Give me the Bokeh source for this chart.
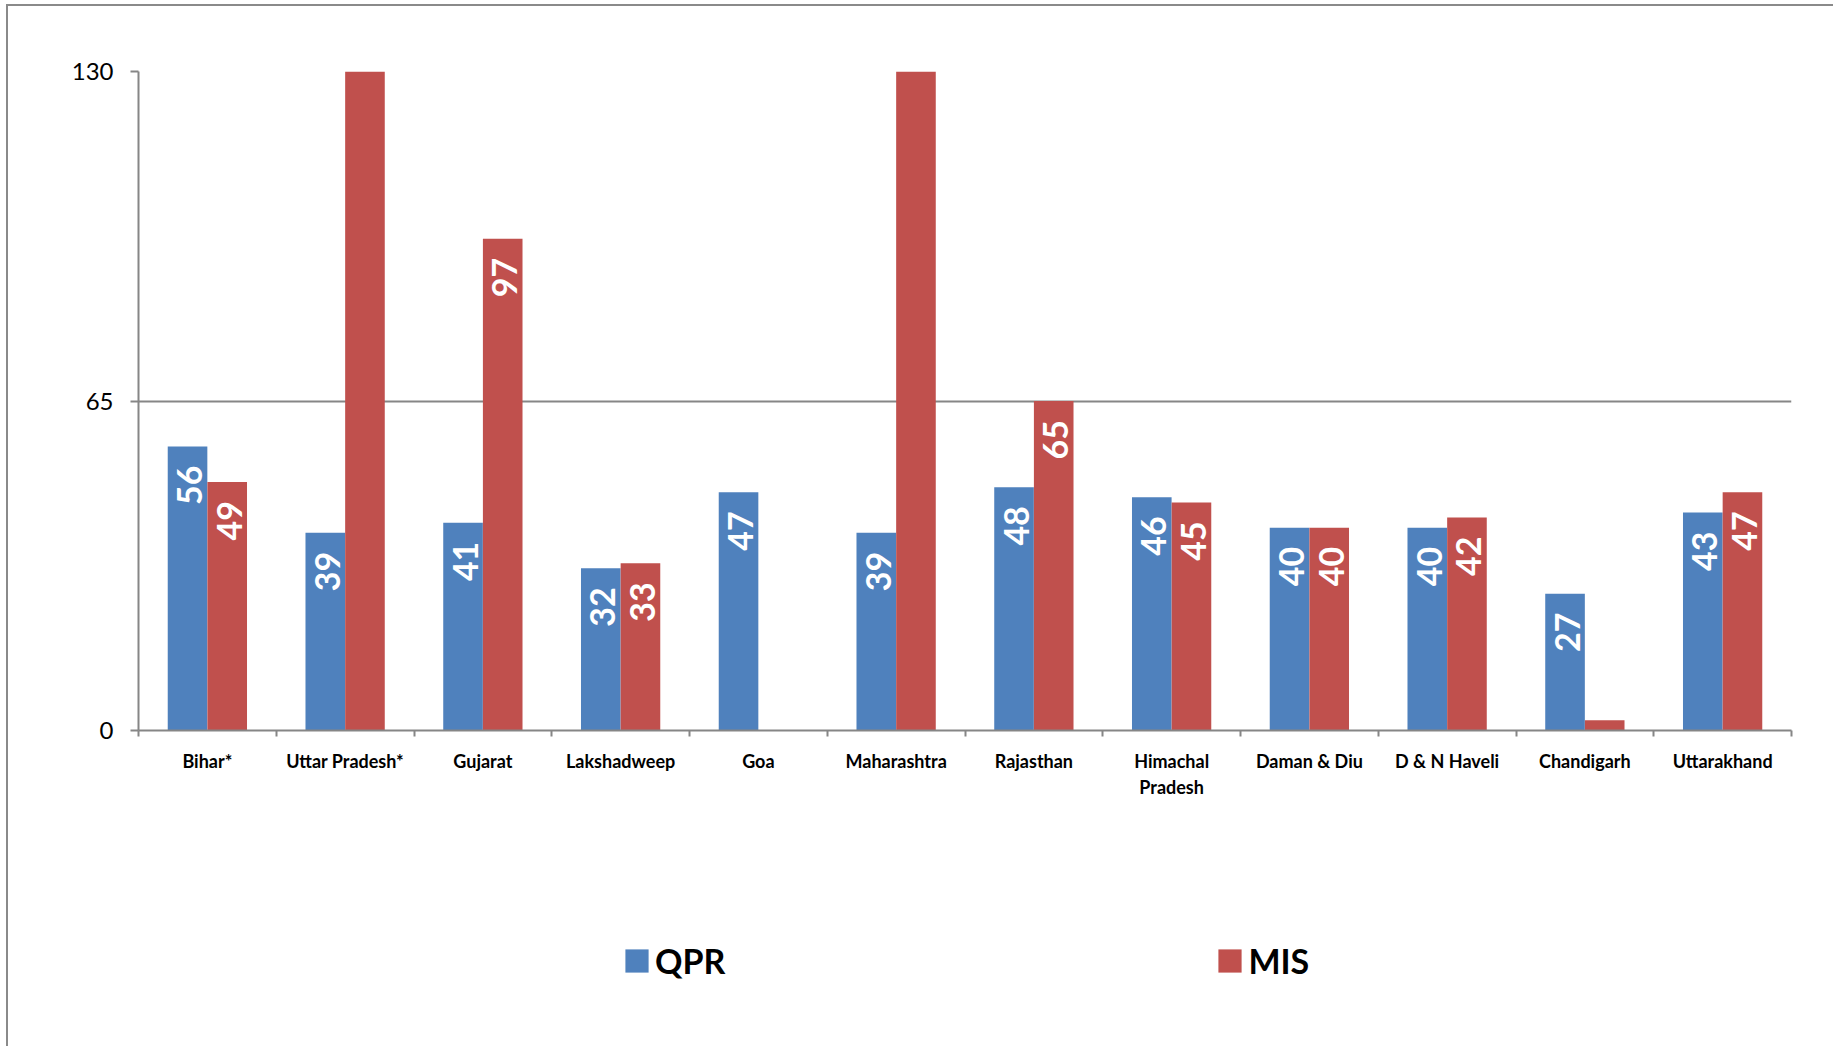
import numpy as np
from bokeh.plotting import figure
from bokeh.layouts import column
from bokeh.models import ColumnDataSource, FixedTicker, Range1d, Legend, LegendItem
from bokeh.transform import dodge
from bokeh.core.properties import value
from bokeh.embed import file_html
from bokeh.resources import INLINE

categories = ["Bihar*", "Uttar Pradesh*", "Gujarat", "Lakshadweep", "Goa", "Maharashtra",
              "Rajasthan", "Himachal\nPradesh", "Daman & Diu", "D & N Haveli", "Chandigarh", "Uttarakhand"]
qpr = [56, 39, 41, 32, 47, 39, 48, 46, 40, 40, 27, 43]
mis = [49, 140, 97, 33, float("nan"), 140, 65, 45, 40, 42, 2, 47]
series_names = ["QPR", "MIS"]
y_ticks = [0, 65, 130]
y_max = 130

BLUE = "#4F81BD"
RED = "#C0504D"
GREY = "#868686"
FONT = "Lato"

n = len(categories)
xc = np.arange(n) + 0.5
OFF = 0.144
BW = 0.2875

src = ColumnDataSource(dict(x=xc, qpr=qpr, mis=mis))

def lbl_source(vals):
    xs, ys, ts = [], [], []
    for xi, v in zip(xc, vals):
        if v == v and 5 <= v <= y_max:
            xs.append(xi); ys.append(v); ts.append(str(int(v)))
    return ColumnDataSource(dict(x=xs, y=ys, t=ts))

W = 1825
p = figure(width=W, height=824, x_range=Range1d(0, n), y_range=Range1d(0, y_max),
           output_backend="svg", toolbar_location=None,
           min_border_left=130, min_border_top=65, min_border_right=42, min_border_bottom=100)
p.outline_line_color = None
p.background_fill_color = "white"
p.border_fill_color = "white"

r1 = p.vbar(x=dodge("x", -OFF), top="qpr", width=BW, source=src, fill_color=BLUE, line_color=None)
r2 = p.vbar(x=dodge("x", OFF), top="mis", width=BW, source=src, fill_color=RED, line_color=None)

for vals, off in ((qpr, -OFF), (mis, OFF)):
    p.text(x=dodge("x", off), y="y", text="t", source=lbl_source(vals), angle=np.pi / 2,
           text_align="right", text_baseline="middle", y_offset=19, x_offset=2,
           text_color="white", text_font=value(FONT), text_font_style="bold",
           text_font_size="34px")

# axes
p.xaxis.ticker = FixedTicker(ticks=list(xc), minor_ticks=list(range(n + 1)))
p.xaxis.major_label_overrides = {float(x): c for x, c in zip(xc, categories)}
p.xaxis.major_tick_line_color = None
p.xaxis.major_tick_out = 0
p.xaxis.major_tick_in = 0
p.xaxis.minor_tick_line_color = GREY
p.xaxis.minor_tick_line_width = 2
p.xaxis.minor_tick_out = 6
p.xaxis.minor_tick_in = 0
p.xaxis.axis_line_color = GREY
p.xaxis.axis_line_width = 2
p.xaxis.major_label_standoff = 13
p.xaxis.major_label_text_font = FONT
p.xaxis.major_label_text_font_style = "bold"
p.xaxis.major_label_text_font_size = "18px"
p.xaxis.major_label_text_color = "black"

p.yaxis.ticker = FixedTicker(ticks=y_ticks)
p.yaxis.minor_tick_line_color = None
p.yaxis.major_tick_line_color = GREY
p.yaxis.major_tick_line_width = 2
p.yaxis.major_tick_out = 8
p.yaxis.major_tick_in = 0
p.yaxis.axis_line_color = GREY
p.yaxis.axis_line_width = 2
p.yaxis.major_label_standoff = 17
p.yaxis.major_label_text_font = FONT
p.yaxis.major_label_text_font_size = "24px"
p.yaxis.major_label_text_color = "black"

p.xgrid.visible = False
p.ygrid.grid_line_color = GREY
p.ygrid.grid_line_width = 2

# legend strip below the chart
pl = figure(width=W, height=216, x_range=Range1d(0, 1), y_range=Range1d(0, 1),
            output_backend="svg", toolbar_location=None, min_border=0,
            x_axis_location=None, y_axis_location=None)
pl.outline_line_color = None
pl.grid.visible = False
pl.border_fill_color = "white"
# zero-height swatch renderers (outside the visible range) that only feed the legend
lr1 = pl.vbar(x=[-1], top=[0], width=0.1, fill_color=BLUE, line_color=None)
lr2 = pl.vbar(x=[-1], top=[0], width=0.1, fill_color=RED, line_color=None)

legend = Legend(items=[LegendItem(label=series_names[0], renderers=[lr1]),
                       LegendItem(label=series_names[1], renderers=[lr2])],
                orientation="horizontal", location=(484, 65),
                glyph_width=29, glyph_height=29, label_standoff=4, spacing=490,
                padding=0, margin=0, border_line_color=None, background_fill_alpha=0,
                label_text_font=FONT, label_text_font_style="bold", label_text_font_size="34px",
                label_text_color="black")
pl.add_layout(legend)

layout = column(p, pl, spacing=0)
layout.styles = {"border-left": "2px solid #8a8a8a", "border-top": "2px solid #8a8a8a",
                 "margin-left": "6px", "margin-top": "4px"}

open("out.html", "w").write(file_html(layout, INLINE))
